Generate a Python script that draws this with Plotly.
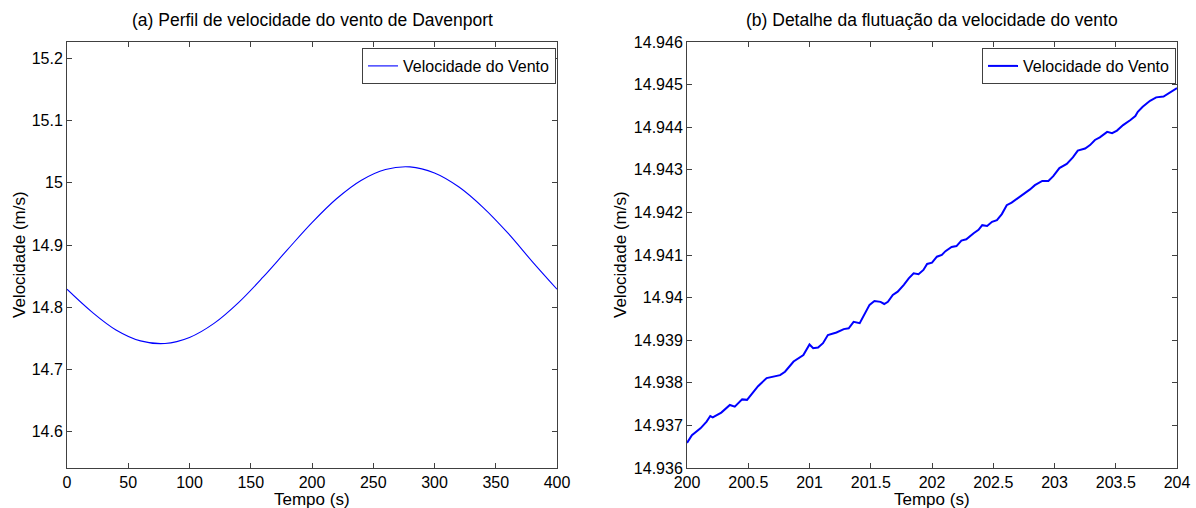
import plotly.graph_objects as go

# (a) Davenport wind-speed profile, sampled every 20 s
tempo_a = [0, 20, 40, 60, 80, 100, 120, 140, 160, 180, 200,
           220, 240, 260, 280, 300, 320, 340, 360, 380, 400]
vel_a = [14.829, 14.7931, 14.7637, 14.7461, 14.7419, 14.7516, 14.7742, 14.8076,
         14.8484, 14.8926, 14.9360, 14.9743, 15.0037, 15.0213, 15.0255, 15.0158,
         14.9932, 14.9598, 14.9190, 14.873, 14.829]

# (b) close-up of the fluctuation between 200 s and 204 s
tempo_b = [200.00, 200.04, 200.11, 200.16, 200.19, 200.21, 200.28, 200.35, 200.39,
           200.45, 200.49, 200.53, 200.58, 200.65, 200.70, 200.76, 200.80, 200.87,
           200.95, 200.99, 201.00, 201.03, 201.07, 201.11, 201.15, 201.22, 201.28,
           201.32, 201.36, 201.41, 201.45, 201.49, 201.53, 201.58, 201.61, 201.64,
           201.68, 201.72, 201.77, 201.81, 201.85, 201.89, 201.93, 201.96, 202.00,
           202.04, 202.08, 202.11, 202.16, 202.20, 202.24, 202.28, 202.34, 202.38,
           202.41, 202.45, 202.49, 202.53, 202.57, 202.61, 202.65, 202.69, 202.75,
           202.80, 202.84, 202.90, 202.95, 202.99, 203.04, 203.10, 203.15, 203.19,
           203.25, 203.29, 203.33, 203.37, 203.43, 203.47, 203.51, 203.56, 203.62,
           203.66, 203.68, 203.72, 203.78, 203.83, 203.89, 203.93, 203.97, 204.00]
vel_b = [14.93659, 14.93677, 14.93693, 14.93709, 14.93722, 14.93719, 14.93730, 14.93748,
         14.93744, 14.93761, 14.93760, 14.93775, 14.93792, 14.93811, 14.93814, 14.93818,
         14.93826, 14.93850, 14.93865, 14.93886, 14.93890, 14.93881, 14.93883, 14.93893,
         14.93912, 14.93918, 14.93926, 14.93928, 14.93943, 14.93940, 14.93963, 14.93983,
         14.93992, 14.93990, 14.93985, 14.93990, 14.94006, 14.94014, 14.94030, 14.94045,
         14.94057, 14.94055, 14.94065, 14.94079, 14.94082, 14.94096, 14.94100, 14.94109,
         14.94119, 14.94121, 14.94134, 14.94137, 14.94151, 14.94159, 14.94170, 14.94168,
         14.94178, 14.94182, 14.94196, 14.94217, 14.94223, 14.94231, 14.94245, 14.94254,
         14.94264, 14.94274, 14.94274, 14.94285, 14.94304, 14.94314, 14.94329, 14.94345,
         14.94350, 14.94358, 14.94370, 14.94376, 14.94389, 14.94386, 14.94392, 14.94405,
         14.94417, 14.94426, 14.94436, 14.94448, 14.94462, 14.94470, 14.94472, 14.94480,
         14.94487, 14.94492]

titulos = ["(a) Perfil de velocidade do vento de Davenport",
           "(b) Detalhe da flutuação da velocidade do vento"]
rotulo_x = "Tempo (s)"
rotulo_y = "Velocidade (m/s)"
nome_serie = "Velocidade do Vento"

W, H = 1196, 508
FONT = "Liberation Sans, Arial, sans-serif"
AXC = "#404040"

# panel boxes in pixels: (left, right), shared top/bottom
pa = (67, 557)
pb = (687, 1177)
top, bot = 42, 468


def px(x):
    return x / W


def py(y):
    return 1 - y / H


fig = go.Figure()
fig.add_trace(go.Scatter(x=tempo_a, y=vel_a, mode="lines", name=nome_serie,
                         line=dict(color="#0000ff", width=1.1, shape="spline",
                                   smoothing=1.0),
                         xaxis="x", yaxis="y", legend="legend"))
fig.add_trace(go.Scatter(x=tempo_b, y=vel_b, mode="lines", name=nome_serie,
                         line=dict(color="#0000ff", width=2),
                         xaxis="x2", yaxis="y2", legend="legend2"))

common = dict(showgrid=False, zeroline=False, showline=True, linecolor=AXC,
              linewidth=1, mirror="ticks", ticks="inside", ticklen=5,
              tickcolor=AXC, tickwidth=1,
              tickfont=dict(family=FONT, size=16, color="#000"))

legend_style = dict(xanchor="right", y=py(top + 6), yanchor="top",
                    bgcolor="white", bordercolor=AXC, borderwidth=1,
                    font=dict(family=FONT, size=16, color="#000"),
                    tracegroupgap=0, itemwidth=30)

fig.update_layout(
    width=W, height=H,
    margin=dict(l=0, r=0, t=0, b=0, autoexpand=False),
    paper_bgcolor="white", plot_bgcolor="white",
    xaxis=dict(domain=[px(pa[0]), px(pa[1])], range=[0, 400], dtick=50,
               anchor="y", **common),
    yaxis=dict(domain=[py(bot), py(top)], range=[14.542, 15.226], dtick=0.1,
               tick0=14.6, anchor="x", **common),
    xaxis2=dict(domain=[px(pb[0]), px(pb[1])], range=[200, 204], dtick=0.5,
                anchor="y2", **common),
    yaxis2=dict(domain=[py(bot), py(top)], range=[14.936, 14.946], dtick=0.001,
                tick0=14.936, anchor="x2", **common),
    legend=dict(x=px(pa[1] - 1), **legend_style),
    legend2=dict(x=px(pb[1] - 1), **legend_style),
    showlegend=True,
)

title_font = dict(family=FONT, size=17.5, color="#000")
label_font = dict(family=FONT, size=17, color="#000")
anns = []
for (l, r), t in zip([pa, pb], titulos):
    cx = px((l + r) / 2)
    anns.append(dict(text=t, x=cx, y=py(20), font=title_font))
    anns.append(dict(text=rotulo_x, x=cx, y=py(499), font=label_font))
anns.append(dict(text=rotulo_y, x=px(19), y=py((top + bot) / 2), textangle=-90,
                 font=label_font))
anns.append(dict(text=rotulo_y, x=px(620), y=py((top + bot) / 2), textangle=-90,
                 font=label_font))
for a in anns:
    a.update(xref="paper", yref="paper", showarrow=False,
             xanchor="center", yanchor="middle")
fig.update_layout(annotations=anns)

fig.write_html("out.html")
